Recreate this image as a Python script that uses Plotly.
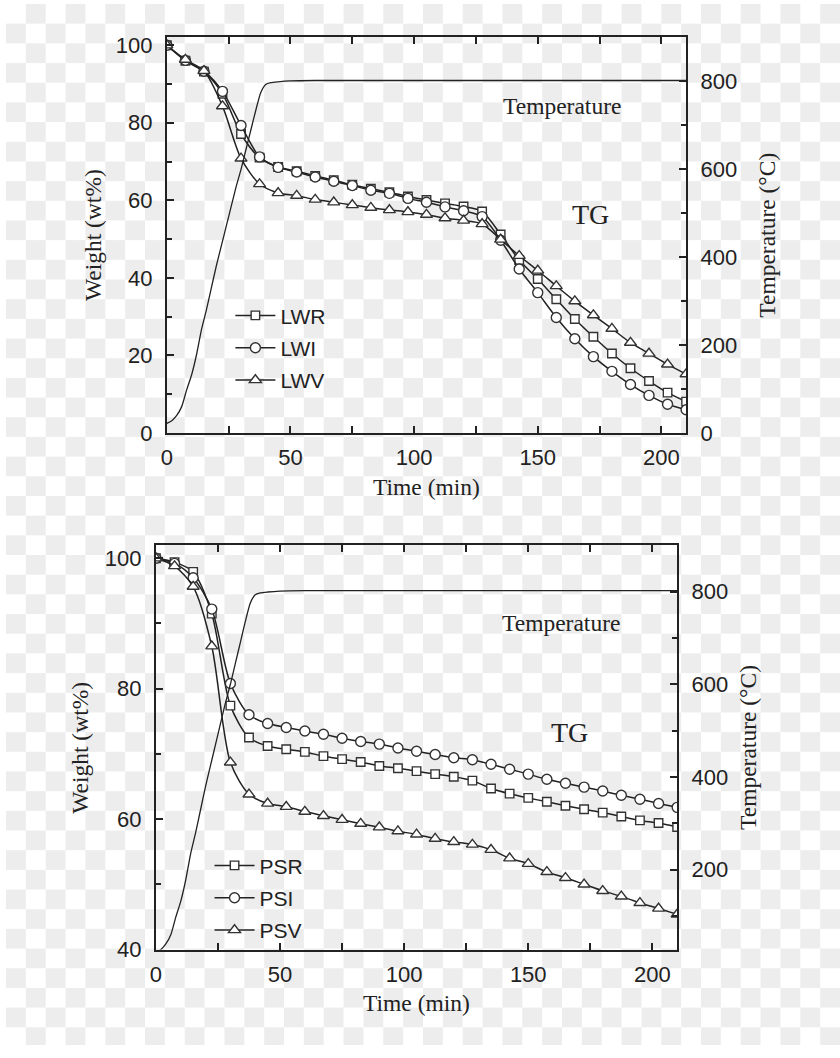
import base64
import plotly.graph_objects as go

# ---------------- data ----------------
time_marks = [i * 7.5 for i in range(29)]  # 0 ... 210 min

LWR = [100, 96.0, 93.2, 87.5, 77.1, 71.0, 68.6, 67.5, 66.3, 65.2, 64.0, 63.0, 62.1, 61.0,
       60.1, 59.2, 58.4, 57.1, 51.2, 44.6, 39.7, 34.5, 29.4, 24.8, 20.5, 16.7, 13.4, 10.4, 8.1]
LWI = [100, 96.1, 93.3, 88.1, 79.3, 71.2, 68.5, 67.3, 66.0, 64.9, 63.8, 62.6, 61.8, 60.5,
       59.5, 58.3, 57.3, 55.8, 49.7, 42.3, 36.2, 29.8, 24.3, 19.7, 15.9, 12.5, 9.7, 7.4, 6.0]
LWV = [100, 96.3, 93.4, 84.3, 70.8, 64.2, 61.9, 61.2, 60.2, 59.5, 58.8, 58.1, 57.5, 57.0,
       56.3, 55.4, 54.8, 53.9, 49.9, 45.7, 41.9, 37.9, 34.0, 30.4, 26.9, 23.3, 20.5, 17.7, 15.2]

PSR = [100, 99.4, 97.9, 91.5, 77.4, 72.5, 71.2, 70.7, 70.3, 69.65, 69.2, 68.75, 68.15, 67.8,
       67.35, 66.9, 66.5, 65.9, 64.7, 63.9, 63.25, 62.65, 62.05, 61.5, 61.0, 60.4, 59.8, 59.4, 58.8]
PSI = [100, 99.2, 97.0, 92.2, 80.8, 76.0, 74.65, 74.05, 73.5, 73.0, 72.4, 71.9, 71.5, 70.9,
       70.4, 69.9, 69.4, 69.1, 68.4, 67.65, 66.9, 66.1, 65.5, 64.9, 64.3, 63.65, 63.05, 62.4, 61.8]
PSV = [100, 98.8, 95.65, 86.5, 68.7, 63.8, 62.4, 61.9, 61.15, 60.5, 59.9, 59.3, 58.75, 58.15,
       57.65, 57.0, 56.5, 56.1, 55.3, 54.0, 53.15, 51.9, 51.0, 50.0, 49.0, 48.15, 47.15, 46.3, 45.4]

temp_time = [0, 2, 4, 6, 8, 10, 12, 14, 16, 18, 20, 22, 24, 26, 28, 30, 32, 34, 36, 38,
             40, 42, 45, 50, 60, 210]
temp_vals = [22, 28, 40, 60, 98, 132, 178, 235, 280, 330, 380, 425, 470, 515, 560, 600,
             645, 690, 735, 775, 793, 797, 799, 801, 802, 802]

x_ticks = [0, 50, 100, 150, 200]
top_names = ["LWR", "LWI", "LWV"]
bottom_names = ["PSR", "PSI", "PSV"]

# ---------------- style ----------------
W, H = 840, 1058
INK = "#222222"
SANS = "Liberation Sans, Arial, sans-serif"
SERIF = "Liberation Serif, Times New Roman, serif"
symbols = ["square", "circle", "triangle-up"]
sizes = [8.5, 10, 10.5]


def pxx(x):
    return x / W


def pxy(y):
    return 1 - y / H


svg = (f'<svg xmlns="http://www.w3.org/2000/svg" width="{W}" height="{H}">'
       '<defs><pattern id="p" width="40" height="40" patternUnits="userSpaceOnUse">'
       '<rect width="40" height="40" fill="#ffffff"/>'
       '<rect x="20" y="0" width="20" height="20" fill="#ededed"/>'
       '<rect x="0" y="20" width="20" height="20" fill="#ededed"/>'
       '</pattern></defs>'
       f'<rect width="{W}" height="{H}" fill="url(#p)"/></svg>')
bg_src = "data:image/svg+xml;base64," + base64.b64encode(svg.encode()).decode()

fig = go.Figure()

fig.add_trace(go.Scatter(x=temp_time, y=temp_vals, xaxis="x", yaxis="y2", mode="lines",
                         line=dict(color=INK, width=1.3, shape="spline", smoothing=0.6),
                         showlegend=False, hoverinfo="skip"))
fig.add_trace(go.Scatter(x=temp_time, y=temp_vals, xaxis="x2", yaxis="y4", mode="lines",
                         line=dict(color=INK, width=1.3, shape="spline", smoothing=0.6),
                         showlegend=False, hoverinfo="skip"))

for i, (name, vals) in enumerate(zip(top_names, [LWR, LWI, LWV])):
    fig.add_trace(go.Scatter(
        x=time_marks, y=vals, xaxis="x", yaxis="y", name=name, mode="lines+markers",
        legend="legend", legendgroup=name,
        line=dict(color=INK, width=1.5, shape="spline", smoothing=0.8),
        marker=dict(symbol=symbols[i], size=sizes[i], color="white",
                    line=dict(color="#333333", width=1.4))))

for i, (name, vals) in enumerate(zip(bottom_names, [PSR, PSI, PSV])):
    fig.add_trace(go.Scatter(
        x=time_marks, y=vals, xaxis="x2", yaxis="y3", name=name, mode="lines+markers",
        legend="legend2", legendgroup=name,
        line=dict(color=INK, width=1.5, shape="spline", smoothing=0.8),
        marker=dict(symbol=symbols[i], size=sizes[i], color="white",
                    line=dict(color="#333333", width=1.4))))

tickfont = dict(family=SANS, size=22, color=INK)


def axis_common(**kw):
    d = dict(showline=True, linewidth=2, linecolor=INK, ticks="inside", ticklen=7,
             tickwidth=1.5, tickcolor=INK, tickfont=tickfont, showgrid=False,
             zeroline=False, fixedrange=True)
    d.update(kw)
    return d


top_x = [pxx(162), pxx(685)]
top_y = [pxy(436), pxy(34)]
bot_x = [pxx(151), pxx(676)]
bot_y = [pxy(961), pxy(550)]

fig.update_layout(
    width=W, height=H, margin=dict(l=0, r=0, t=0, b=0),
    paper_bgcolor="white", plot_bgcolor="rgba(0,0,0,0)",
    images=[dict(source=bg_src, xref="paper", yref="paper", x=0, y=1, sizex=1, sizey=1,
                 xanchor="left", yanchor="top", sizing="stretch", layer="below")],
    xaxis=axis_common(domain=top_x, anchor="y", range=[0, 210], tickvals=x_ticks,
                      mirror="allticks", ticklabelstandoff=4,
                      minor=dict(dtick=25, tick0=0, ticks="inside", ticklen=5,
                                 tickwidth=1.5, tickcolor=INK)),
    yaxis=axis_common(domain=top_y, anchor="x", range=[0, 102], dtick=20, tick0=0,
                      ticklabelstandoff=8,
                      minor=dict(dtick=10, tick0=0, ticks="inside", ticklen=5,
                                 tickwidth=1.5, tickcolor=INK)),
    yaxis2=axis_common(overlaying="y", anchor="x", side="right", range=[0, 900],
                       dtick=200, tick0=0, ticklabelstandoff=8,
                       minor=dict(dtick=100, tick0=0, ticks="inside", ticklen=5,
                                  tickwidth=1.5, tickcolor=INK)),
    xaxis2=axis_common(domain=bot_x, anchor="y3", range=[0, 210], tickvals=x_ticks,
                       mirror="allticks", ticklabelstandoff=4,
                       minor=dict(dtick=25, tick0=0, ticks="inside", ticklen=5,
                                  tickwidth=1.5, tickcolor=INK)),
    yaxis3=axis_common(domain=bot_y, anchor="x2", range=[40, 102], dtick=20, tick0=0,
                       ticklabelstandoff=8,
                       minor=dict(dtick=10, tick0=0, ticks="inside", ticklen=5,
                                  tickwidth=1.5, tickcolor=INK)),
    yaxis4=axis_common(overlaying="y3", anchor="x2", side="right", range=[28, 900],
                       dtick=200, tick0=0, ticklabelstandoff=8,
                       minor=dict(dtick=100, tick0=0, ticks="inside", ticklen=5,
                                  tickwidth=1.5, tickcolor=INK)),
    legend=dict(x=pxx(226), y=pxy(296), xanchor="left", yanchor="top",
                bgcolor="rgba(0,0,0,0)", borderwidth=0, itemwidth=40,
                traceorder="grouped", tracegroupgap=2,
                font=dict(family=SANS, size=21, color=INK)),
    legend2=dict(x=pxx(205), y=pxy(855), xanchor="left", yanchor="top",
                 bgcolor="rgba(0,0,0,0)", borderwidth=0, itemwidth=40,
                 traceorder="grouped", tracegroupgap=2,
                 font=dict(family=SANS, size=21, color=INK)),
    showlegend=True,
)

serif_title = dict(family=SERIF, size=23.5, color=INK)
ann = [
    dict(text="Weight (wt%)", x=pxx(87.5), y=pxy(235), textangle=-90, font=serif_title),
    dict(text="Temperature (°C)", x=pxx(767), y=pxy(235), textangle=-90, font=serif_title),
    dict(text="Time (min)", x=pxx(423.5), y=pxy(491), font=serif_title),
    dict(text="Temperature", x=pxx(560), y=pxy(104), font=serif_title),
    dict(text="TG", x=pxx(589), y=pxy(214), font=dict(family=SERIF, size=28, color=INK)),
    dict(text="Weight (wt%)", x=pxx(75), y=pxy(755.5), textangle=-90, font=serif_title),
    dict(text="Temperature (°C)", x=pxx(747.5), y=pxy(756), textangle=-90, font=serif_title),
    dict(text="Time (min)", x=pxx(413.5), y=pxy(1015), font=serif_title),
    dict(text="Temperature", x=pxx(559), y=pxy(629), font=serif_title),
    dict(text="TG", x=pxx(567.5), y=pxy(740), font=dict(family=SERIF, size=28, color=INK)),
]
for a in ann:
    a.update(xref="paper", yref="paper", showarrow=False, xanchor="center", yanchor="middle")
fig.update_layout(annotations=ann)

fig.write_html("out.html", config=dict(displayModeBar=False),
               post_script="document.body.style.margin='0';")
